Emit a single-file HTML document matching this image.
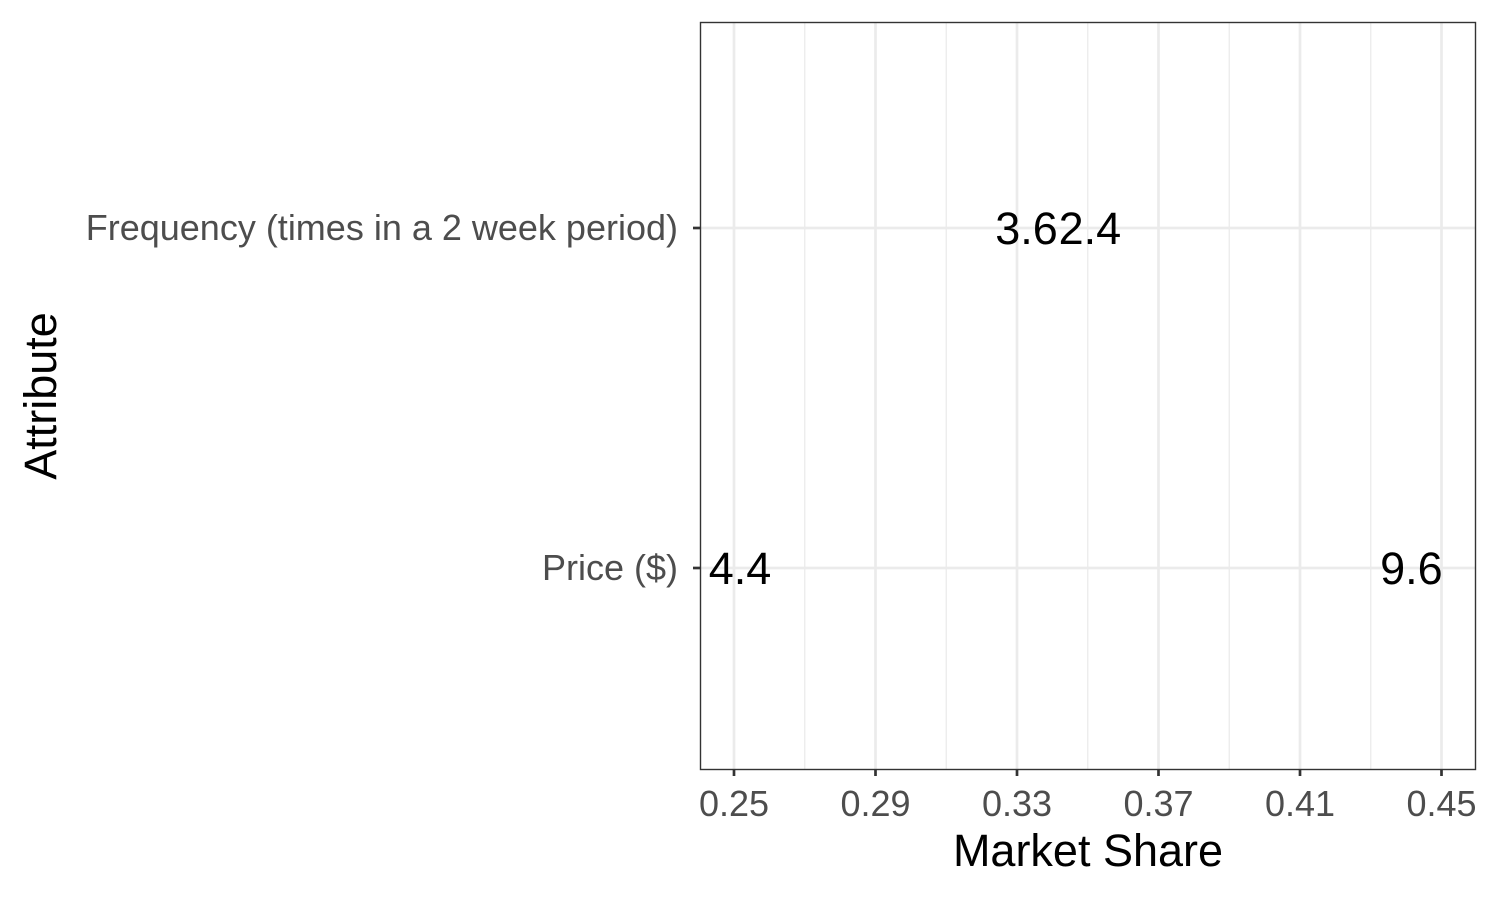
<!DOCTYPE html>
<html><head><meta charset="utf-8"><style>
body{margin:0;background:#fff}
svg text{font-family:"Liberation Sans",Arial,sans-serif}
</style></head><body>
<svg id="chart" width="1500" height="900" viewBox="0 0 1500 900">
<rect width="1500" height="900" fill="#fff"/>
<g id="grid"></g>
<g id="marks"></g>
<rect x="700.5" y="22.5" width="775" height="747" fill="none" stroke="#333" stroke-width="1.4"/>
<g id="axes"></g>
<text x="1088" y="866" font-size="45" text-anchor="middle" fill="#000">Market Share</text>
<text transform="translate(56,396) rotate(-90)" font-size="45" text-anchor="middle" fill="#000">Attribute</text>
</svg>
<script>
const categories = ["Frequency (times in a 2 week period)", "Price ($)"];
const labelCats = ["Frequency (times in a 2 week period)", "Frequency (times in a 2 week period)", "Price ($)", "Price ($)"];
const labelValues = [0.3327, 0.3506, 0.2517, 0.4415];
const labelTexts = ["3.6", "2.4", "4.4", "9.6"];
const xTicks = [0.25, 0.29, 0.33, 0.37, 0.41, 0.45];
const xTickLabels = ["0.25", "0.29", "0.33", "0.37", "0.41", "0.45"];

const NS = "http://www.w3.org/2000/svg";
const x = v => 734 + (v - 0.25) / 0.04 * 141.5;
const y = c => 228 + categories.indexOf(c) * 340;
function mk(tag, attrs, parent, txt){const e=document.createElementNS(NS,tag);for(const k in attrs)e.setAttribute(k,attrs[k]);if(txt!==undefined)e.textContent=txt;parent.appendChild(e);return e;}
const grid=document.getElementById('grid'), marks=document.getElementById('marks'), axes=document.getElementById('axes');
mk('rect',{x:700,y:22,width:775,height:747,fill:'#fff'},grid);
for(let i=0;i<xTicks.length-1;i++){
  const m=(xTicks[i]+xTicks[i+1])/2;
  const g=mk('line',{x1:x(m),x2:x(m),y1:22,y2:769,stroke:'#ebebeb','stroke-width':1.3},grid);
  
  
}
xTicks.forEach((t,i)=>{
  const g=mk('line',{x1:x(t),x2:x(t),y1:22,y2:769,stroke:'#ebebeb','stroke-width':2.7},grid);
  
  
  const tk=mk('line',{x1:x(t),x2:x(t),y1:769,y2:776,stroke:'#333','stroke-width':2.7},axes);
  
  
  const tl=mk('text',{x:x(t),y:816,'font-size':36,'text-anchor':'middle',fill:'#4d4d4d'},axes,xTickLabels[i]);
  
  
});
categories.forEach(c=>{
  const g=mk('line',{x1:700,x2:1475,y1:y(c),y2:y(c),stroke:'#ebebeb','stroke-width':2.7},grid);
  
  
  const tk=mk('line',{x1:693,x2:700,y1:y(c),y2:y(c),stroke:'#333','stroke-width':2.7},axes);
  
  
  const tl=mk('text',{x:678,y:y(c)+12,'font-size':36,'text-anchor':'end',fill:'#4d4d4d'},axes,c);
  
  
});
labelValues.forEach((v,i)=>{
  const t=mk('text',{x:x(v),y:y(labelCats[i])+16,'font-size':45,'text-anchor':'middle',fill:'#000'},marks,labelTexts[i]);
  
  
});
</script>
</body></html>
